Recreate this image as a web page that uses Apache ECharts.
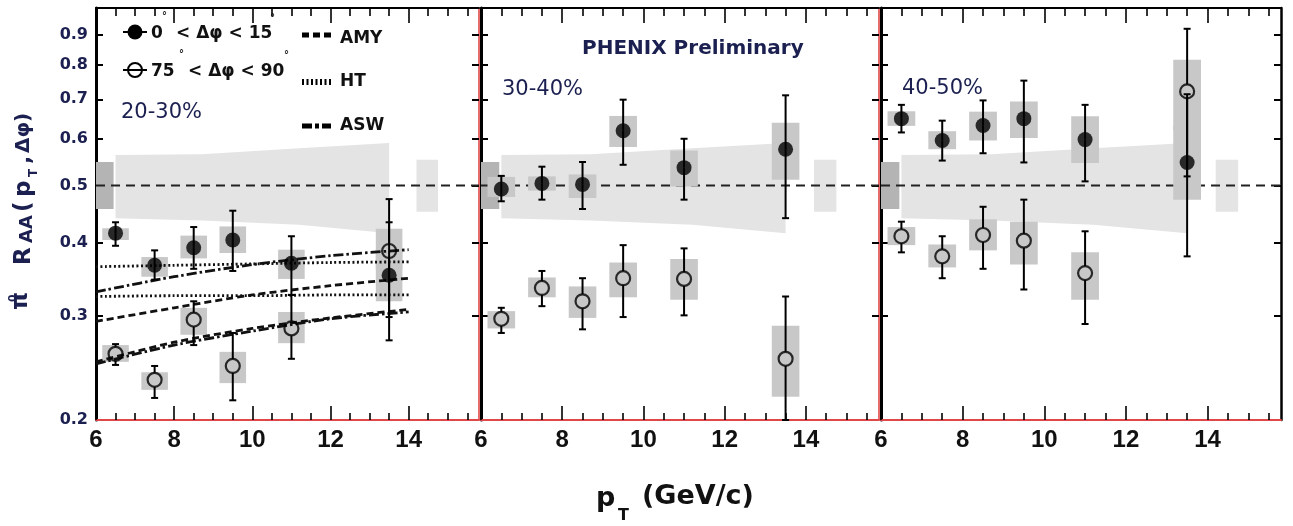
<!DOCTYPE html>
<html><head><meta charset="utf-8">
<script src="https://cdn.jsdelivr.net/npm/echarts@6/dist/echarts.min.js"></script>
<style>html,body{margin:0;padding:0;background:#fff}#c{width:1293px;height:526px}</style>
</head><body><div id="c"></div>
<script>
// ---------------- data ----------------
const pT = [6.5, 7.5, 8.5, 9.5, 11, 13.5];
const yTicks = [0.2, 0.3, 0.4, 0.5, 0.6, 0.7, 0.8, 0.9];
const xMajor = [6, 8, 10, 12, 14];
const xMinor = [6.5, 7, 7.5, 8.5, 9, 9.5, 10.5, 11, 11.5, 12.5, 13, 13.5, 14.5, 15, 15.5];
const centralities = ['20-30%', '30-40%', '40-50%'];

// 20-30%
const p1In = [0.415, 0.366, 0.392, 0.404, 0.369, 0.352];
const p1InErrLo = [0.395, 0.346, 0.361, 0.358, 0.326, 0.273];
const p1InErrHi = [0.433, 0.388, 0.425, 0.453, 0.410, 0.433];
const p1InSysLo = [0.404, 0.350, 0.376, 0.384, 0.347, 0.318];
const p1InSysHi = [0.423, 0.378, 0.411, 0.426, 0.389, 0.390];
const p1Out = [0.259, 0.234, 0.296, 0.247, 0.286, 0.387];
const p1OutErrLo = [0.248, 0.218, 0.268, 0.216, 0.254, 0.299];
const p1OutErrHi = [0.269, 0.247, 0.318, 0.281, 0.326, 0.474];
const p1OutSysLo = [0.251, 0.225, 0.279, 0.231, 0.270, 0.360];
const p1OutSysHi = [0.268, 0.241, 0.310, 0.261, 0.305, 0.422];

// 30-40%
const p2In = [0.493, 0.504, 0.502, 0.619, 0.536, 0.576];
const p2InErrLo = [0.470, 0.473, 0.456, 0.542, 0.473, 0.440];
const p2InErrHi = [0.519, 0.538, 0.548, 0.699, 0.600, 0.711];
const p2InSysLo = [0.478, 0.490, 0.476, 0.581, 0.498, 0.511];
const p2InSysHi = [0.517, 0.518, 0.522, 0.656, 0.573, 0.639];
const p2Out = [0.297, 0.335, 0.318, 0.348, 0.347, 0.254];
const p2OutErrLo = [0.281, 0.312, 0.285, 0.299, 0.301, 0.200];
const p2OutErrHi = [0.310, 0.358, 0.348, 0.396, 0.391, 0.324];
const p2OutSysLo = [0.286, 0.323, 0.298, 0.323, 0.320, 0.219];
const p2OutSysHi = [0.306, 0.349, 0.337, 0.370, 0.375, 0.289];

// 40-50%
const p3In = [0.649, 0.596, 0.632, 0.649, 0.598, 0.547];
const p3InErrLo = [0.615, 0.551, 0.567, 0.547, 0.508, 0.379];
const p3InErrHi = [0.685, 0.644, 0.697, 0.753, 0.685, 0.714];
const p3InSysLo = [0.631, 0.576, 0.596, 0.602, 0.546, 0.473];
const p3InSysHi = [0.668, 0.618, 0.667, 0.694, 0.655, 0.630];
const p3Out = [0.410, 0.379, 0.412, 0.403, 0.355, 0.722];
const p3OutErrLo = [0.385, 0.348, 0.361, 0.333, 0.291, 0.518];
const p3OutErrHi = [0.434, 0.410, 0.460, 0.473, 0.418, 0.922];
const p3OutSysLo = [0.396, 0.363, 0.388, 0.367, 0.320, 0.620];
const p3OutSysHi = [0.425, 0.397, 0.438, 0.434, 0.385, 0.817];

// global uncertainty bands (same in every panel)
const bandDarkX = [6, 6.45];
const bandDarkY = [0.456, 0.548];
const bandX = [6.5, 8.7, 11.2, 13.5];
const bandHi = [0.563, 0.565, 0.578, 0.590];
const bandLo = [0.440, 0.436, 0.429, 0.415];
const bandLightX = [14.2, 14.75];
const bandLightY = [0.451, 0.553];
const refLine = 0.5;

// model curves (20-30% panel)
const thX = [6, 8, 10, 12, 14];
const amyIn = [0.294, 0.310, 0.326, 0.338, 0.348];
const amyOut = [0.251, 0.271, 0.286, 0.298, 0.308];
const htIn = [0.364, 0.366, 0.368, 0.370, 0.371];
const htOut = [0.324, 0.325, 0.325, 0.326, 0.326];
const aswIn = [0.330, 0.350, 0.367, 0.380, 0.389];
const aswOut = [0.249, 0.268, 0.283, 0.297, 0.305];

// ---------------- chart ----------------
const L = v => Math.log10(v);
const XMIN = 6, XMAX = 15.8, YMIN = 0.2, YMAX = 1.0;
const NAVY = '#1b2050';
const INK = '#111111';

const panels = [
  {inV: p1In, inLo: p1InErrLo, inHi: p1InErrHi, inSL: p1InSysLo, inSH: p1InSysHi,
   outV: p1Out, outLo: p1OutErrLo, outHi: p1OutErrHi, outSL: p1OutSysLo, outSH: p1OutSysHi},
  {inV: p2In, inLo: p2InErrLo, inHi: p2InErrHi, inSL: p2InSysLo, inSH: p2InSysHi,
   outV: p2Out, outLo: p2OutErrLo, outHi: p2OutErrHi, outSL: p2OutSysLo, outSH: p2OutSysHi},
  {inV: p3In, inLo: p3InErrLo, inHi: p3InErrHi, inSL: p3InSysLo, inSH: p3InSysHi,
   outV: p3Out, outLo: p3OutErrLo, outHi: p3OutErrHi, outSL: p3OutSysLo, outSH: p3OutSysHi}
];

const grids = [
  {left: 96, top: 8, width: 383, height: 412},
  {left: 481, top: 8, width: 398, height: 412},
  {left: 881, top: 8, width: 400, height: 412}
];

const xAxes = [], yAxes = [];
grids.forEach((g, i) => {
  const base = {gridIndex: i, type: 'value', min: XMIN, max: XMAX, splitLine: {show: false}};
  xAxes.push(Object.assign({}, base, {
    position: 'bottom',
    axisLine: {show: true, onZero: false, lineStyle: {color: '#e04848', width: 2}},
    axisTick: {show: true, inside: true, length: 14, customValues: xMajor, lineStyle: {color: '#000', width: 1.6}},
    axisLabel: {show: true, customValues: xMajor, margin: 8, color: INK,
      fontFamily: '"Liberation Sans Narrow", "Arial Narrow", "Liberation Sans", Arial, sans-serif',
      fontWeight: 'bold', fontSize: 24}
  }));
  xAxes.push(Object.assign({}, base, {
    position: 'bottom', axisLine: {show: false, onZero: false},
    axisTick: {show: true, inside: true, length: 7, customValues: xMinor, lineStyle: {color: '#000', width: 1.6}},
    axisLabel: {show: false}
  }));
  xAxes.push(Object.assign({}, base, {
    position: 'top',
    axisLine: {show: true, onZero: false, lineStyle: {color: '#000', width: 2}},
    axisTick: {show: true, inside: true, length: 15, customValues: xMajor, lineStyle: {color: '#000', width: 1.6}},
    axisLabel: {show: false}
  }));
  xAxes.push(Object.assign({}, base, {
    position: 'top', axisLine: {show: false, onZero: false},
    axisTick: {show: true, inside: true, length: 8, customValues: xMinor, lineStyle: {color: '#000', width: 1.6}},
    axisLabel: {show: false}
  }));
  const ybase = {gridIndex: i, type: 'value', min: L(YMIN), max: L(YMAX), splitLine: {show: false}};
  yAxes.push(Object.assign({}, ybase, {
    position: 'left',
    axisLine: {show: true, onZero: false, lineStyle: {color: '#000', width: 3}},
    axisTick: {show: true, inside: true, length: 7, customValues: yTicks.slice(1).map(L), lineStyle: {color: '#000', width: 2}},
    axisLabel: {show: i === 0, customValues: yTicks.map(L), margin: 8, color: NAVY,
      fontFamily: '"DejaVu Sans", sans-serif', fontWeight: 'bold', fontSize: 16,
      formatter: v => (Math.round(Math.pow(10, v) * 10) / 10).toFixed(1)}
  }));
  yAxes.push(Object.assign({}, ybase, {
    position: 'right',
    axisLine: {show: true, onZero: false, lineStyle: {color: i === 2 ? '#000' : '#e04848', width: i === 2 ? 2.5 : 1.6}},
    axisTick: {show: true, inside: true, length: 7, customValues: yTicks.slice(1).map(L), lineStyle: {color: '#000', width: 2}},
    axisLabel: {show: false}
  }));
});

const BOX_HALF = 0.34;
function boxRender(params, api) {
  const x = api.value(0), lo = api.value(1), hi = api.value(2);
  const a = api.coord([x - BOX_HALF, hi]), b = api.coord([x + BOX_HALF, lo]);
  return {type: 'rect', shape: {x: a[0], y: a[1], width: b[0] - a[0], height: b[1] - a[1]},
    style: {fill: '#c8c8c8'}};
}
function rectRender(fill) {
  return function (params, api) {
    const a = api.coord([api.value(0), api.value(3)]), b = api.coord([api.value(1), api.value(2)]);
    return {type: 'rect', shape: {x: a[0], y: a[1], width: b[0] - a[0], height: b[1] - a[1]}, style: {fill: fill}};
  };
}
function bandRender(params, api) {
  const pts = [];
  bandX.forEach((x, k) => pts.push(api.coord([x, L(bandHi[k])])));
  for (let k = bandX.length - 1; k >= 0; k--) pts.push(api.coord([bandX[k], L(bandLo[k])]));
  return {type: 'polygon', shape: {points: pts}, style: {fill: '#e4e4e4'}};
}
function errRender(open) {
  return function (params, api) {
    const x = api.value(0), v = api.value(1), lo = api.value(2), hi = api.value(3);
    const c = api.coord([x, v]), a = api.coord([x, hi]), b = api.coord([x, lo]);
    const gap = open ? 7 : 0, cap = 3.5;
    const st = {stroke: '#000', lineWidth: 2};
    const ch = [];
    if (c[1] - gap > a[1]) ch.push({type: 'line', shape: {x1: c[0], y1: a[1], x2: c[0], y2: c[1] - gap}, style: st});
    if (b[1] > c[1] + gap) ch.push({type: 'line', shape: {x1: c[0], y1: c[1] + gap, x2: c[0], y2: b[1]}, style: st});
    ch.push({type: 'line', shape: {x1: c[0] - cap, y1: a[1], x2: c[0] + cap, y2: a[1]}, style: st});
    ch.push({type: 'line', shape: {x1: c[0] - cap, y1: b[1], x2: c[0] + cap, y2: b[1]}, style: st});
    return {type: 'group', children: ch};
  };
}

const series = [];
panels.forEach((p, i) => {
  const ax = {xAxisIndex: 4 * i, yAxisIndex: 2 * i};
  series.push(Object.assign({type: 'custom', z: 1, renderItem: bandRender,
    data: [[bandX[0], L(bandLo[0])]]}, ax));
  series.push(Object.assign({type: 'custom', z: 1, renderItem: rectRender('#b4b4b4'),
    data: [[bandDarkX[0], bandDarkX[1], L(bandDarkY[0]), L(bandDarkY[1])]]}, ax));
  series.push(Object.assign({type: 'custom', z: 1, renderItem: rectRender('#e4e4e4'),
    data: [[bandLightX[0], bandLightX[1], L(bandLightY[0]), L(bandLightY[1])]]}, ax));
  series.push(Object.assign({type: 'line', z: 2, symbol: 'none', silent: true,
    data: [[XMIN, L(refLine)], [XMAX, L(refLine)]],
    lineStyle: {color: '#222', width: 2, type: [9, 6]}}, ax));
  series.push(Object.assign({type: 'custom', z: 4, renderItem: boxRender,
    data: pT.map((x, k) => [x, L(p.inSL[k]), L(p.inSH[k])])}, ax));
  series.push(Object.assign({type: 'custom', z: 4, renderItem: boxRender,
    data: pT.map((x, k) => [x, L(p.outSL[k]), L(p.outSH[k])])}, ax));
  series.push(Object.assign({type: 'custom', z: 6, renderItem: errRender(false),
    data: pT.map((x, k) => [x, L(p.inV[k]), L(p.inLo[k]), L(p.inHi[k])])}, ax));
  series.push(Object.assign({type: 'custom', z: 6, renderItem: errRender(true),
    data: pT.map((x, k) => [x, L(p.outV[k]), L(p.outLo[k]), L(p.outHi[k])])}, ax));
  series.push(Object.assign({type: 'scatter', z: 7, symbol: 'circle', symbolSize: 15,
    itemStyle: {color: '#000'},
    data: pT.map((x, k) => [x, L(p.inV[k])])}, ax));
  series.push(Object.assign({type: 'scatter', z: 7, symbol: 'circle', symbolSize: 14,
    itemStyle: {color: 'rgba(0,0,0,0)', borderColor: '#000', borderWidth: 2.2},
    data: pT.map((x, k) => [x, L(p.outV[k])])}, ax));
});

const models = [
  {d: amyIn, t: [7, 4]}, {d: amyOut, t: [7, 4]},
  {d: htIn, t: [2, 2.5]}, {d: htOut, t: [2, 2.5]},
  {d: aswIn, t: [10, 3, 2.5, 3]}, {d: aswOut, t: [10, 3, 2.5, 3]}
];
models.forEach(m => series.push({type: 'line', xAxisIndex: 0, yAxisIndex: 0, z: 5, symbol: 'none',
  smooth: 0.3, silent: true, data: thX.map((x, k) => [x, L(m.d[k])]),
  lineStyle: {color: '#111', width: 2.8, type: m.t}}));

// ---------------- texts & legend ----------------
const FB = '"DejaVu Sans", sans-serif';
function txt(x, y, text, size, weight, color, extra) {
  return Object.assign({type: 'text', x: x, y: y, z: 100,
    style: {text: text, fill: color || INK, font: (weight || 'normal') + ' ' + size + 'px ' + FB,
      verticalAlign: 'middle', align: 'left'}}, extra || {});
}
const graphic = [
  // legend markers
  {type: 'line', z: 100, shape: {x1: 123, y1: 32, x2: 147, y2: 32}, style: {stroke: '#000', lineWidth: 2}},
  {type: 'circle', z: 100, shape: {cx: 135, cy: 32, r: 7.5}, style: {fill: '#000'}},
  {type: 'line', z: 100, shape: {x1: 123, y1: 70, x2: 147, y2: 70}, style: {stroke: '#000', lineWidth: 2}},
  {type: 'circle', z: 100, shape: {cx: 135, cy: 70, r: 7}, style: {fill: 'none', stroke: '#000', lineWidth: 2}},
  txt(151, 34, '0', 17, 'bold'),
  txt(162, 16, '°', 10, 'bold'),
  txt(176, 34, '< Δφ < 15', 17, 'bold'),
  txt(270, 18, '°', 10, 'bold'),
  txt(151, 72, '75', 17, 'bold'),
  txt(179, 54, '°', 10, 'bold'),
  txt(188, 72, '< Δφ < 90', 17, 'bold'),
  txt(284, 55, '°', 10, 'bold'),
  // model legend
  {type: 'line', z: 100, shape: {x1: 302, y1: 35, x2: 333, y2: 35}, style: {stroke: '#000', lineWidth: 5, lineDash: [7, 4]}},
  {type: 'line', z: 100, shape: {x1: 302, y1: 82, x2: 331, y2: 82}, style: {stroke: '#000', lineWidth: 6, lineDash: [2, 2.5]}},
  {type: 'line', z: 100, shape: {x1: 302, y1: 126, x2: 331, y2: 126}, style: {stroke: '#000', lineWidth: 5, lineDash: [10, 3, 4, 3]}},
  txt(340, 39, 'AMY', 17, 'bold'),
  txt(340, 82, 'HT', 17, 'bold'),
  txt(340, 126, 'ASW', 17, 'bold'),
  // centrality labels & header
  txt(121, 113, centralities[0], 21, 'normal', NAVY),
  txt(502, 90, centralities[1], 21, 'normal', NAVY),
  txt(902, 89, centralities[2], 21, 'normal', NAVY),
  txt(582, 49, 'PHENIX Preliminary', 20, 'bold', NAVY),
  // x axis title
  txt(596, 499, 'p', 27, 'bold', INK),
  txt(618, 516, 'T', 16, 'bold', INK),
  txt(642, 497, '(GeV/c)', 27, 'bold', INK),
  // y axis title (rotated)
  {type: 'group', x: 0, y: 310, rotation: Math.PI / 2, z: 100, children: [
    txt(0, 21, 'π', 23, 'bold', NAVY),
    txt(8, 13, '0', 11, 'bold', NAVY),
    txt(45, 24, 'R', 23, 'bold', NAVY),
    txt(67, 27, 'AA', 18, 'bold', NAVY),
    txt(98, 24, '(', 23, 'bold', NAVY),
    txt(113, 24, 'p', 23, 'bold', NAVY),
    txt(133, 34, 'T', 12, 'bold', NAVY),
    txt(146, 24, ',', 22, 'bold', NAVY),
    txt(157, 24, 'Δφ)', 20, 'bold', NAVY)
  ]}
];

const chart = echarts.init(document.getElementById('c'), null, {renderer: 'canvas'});
chart.setOption({
  animation: false,
  backgroundColor: '#fff',
  grid: grids,
  xAxis: xAxes,
  yAxis: yAxes,
  series: series,
  graphic: graphic
});
</script>
</body></html>
